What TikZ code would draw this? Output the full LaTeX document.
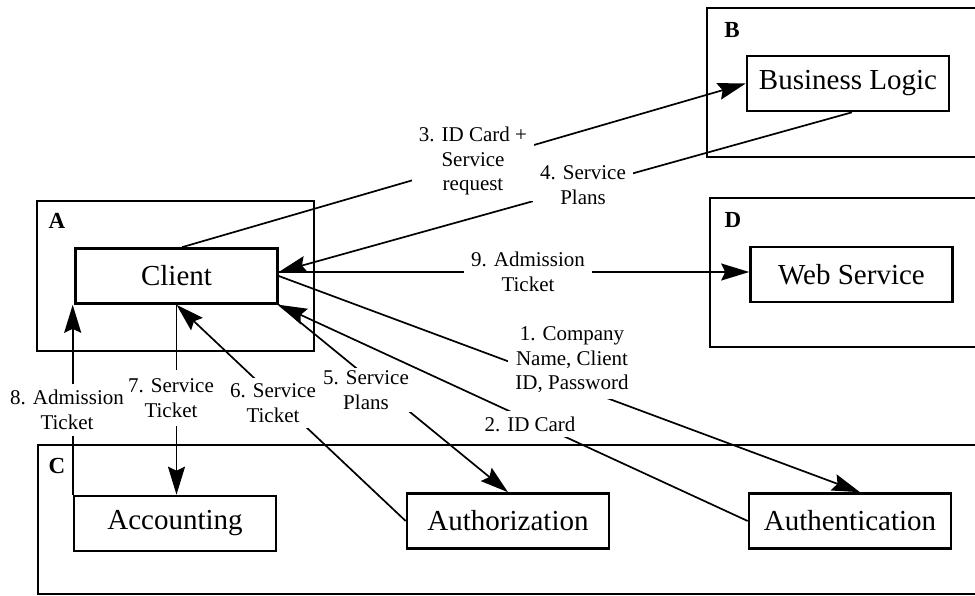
\documentclass[tikz,border=0pt]{standalone}
\usepackage{fontspec}
\setmainfont{Liberation Serif}
\usetikzlibrary{arrows.meta}
\begin{document}
\begin{tikzpicture}[x=1pt,y=1pt,
  group/.style={draw=black,line width=2.6pt,inner sep=0pt},
  unit/.style={draw=black,line width=2.6pt,minimum width=202pt,minimum height=55pt,inner sep=0pt,font=\fontsize{29}{32}\selectfont},
  tag/.style={inner sep=0pt,font=\fontsize{23}{25}\selectfont\bfseries},
  msg/.style={line width=1.7pt,-{Stealth[length=28pt,width=17pt,inset=4pt]}},
  note/.style={fill=white,align=center,inner xsep=7pt,inner ysep=6pt,font=\fontsize{21}{24.5}\selectfont}]
\useasboundingbox (0,0) rectangle (975,-595);
\clip (0,0) rectangle (975,-595);
\node[group,minimum width=277pt,minimum height=150pt] (grpA) at (175.5,-276) {};
\node[group,minimum width=278pt,minimum height=149pt] (grpB) at (846,-82.5) {};
\node[group,minimum width=947pt,minimum height=149pt] (grpC) at (511.5,-519.5) {};
\node[group,minimum width=275pt,minimum height=149pt] (grpD) at (847.5,-272.5) {};
\node[tag] (tagA) at (57,-221) {A};
\node[tag] (tagB) at (732,-30) {B};
\node[tag] (tagC) at (57,-466) {C};
\node[tag] (tagD) at (733,-220) {D};
\node[unit] (client) at (176.5,-276) {Client};
\node[unit] (biz) at (848,-83.5) {Business Logic};
\node[unit] (web) at (851.5,-274.5) {Web Service};
\node[unit] (acct) at (175,-523.5) {Accounting};
\node[unit] (authz) at (508,-521) {Authorization};
\node[unit] (authn) at (850,-521) {Authentication};
\draw[msg] (client.east) -- ([xshift=10pt]authn.north);
\draw[msg] (authn.west) -- (client.south east);
\draw[msg] ([xshift=5.5pt]client.north) -- (biz.west);
\draw[msg] ([xshift=4pt]biz.south) -- ([yshift=4pt]client.east);
\draw[msg] (client.south east) -- (authz.north);
\draw[msg] (authz.west) -- (client.south);
\draw[msg] (client.south) -- (client.south |- acct.north);
\draw[msg] (acct.north west) -- (acct.north west |- client.south);
\draw[msg] ([yshift=4pt]client.east) -- ([yshift=4pt]client.east -| web.west);
\node[note] (lbl1) at (572,-360) {1. Company\\Name, Client\\ID, Password};
\node[note] (lbl2) at (530,-424) {2. ID Card};
\node[note] (lbl3) at (473,-161) {3. ID Card +\\Service\\request};
\node[note] (lbl4) at (583,-185) {4. Service\\Plans};
\node[note,inner sep=3pt] (lbl5) at (366,-390) {5. Service\\Plans};
\node[note] (lbl6) at (273,-403) {6. Service\\Ticket};
\node[note,inner ysep=9pt] (lbl7) at (171,-398) {7. Service\\Ticket};
\node[note] (lbl8) at (67,-410) {8. Admission\\Ticket};
\node[note] (lbl9) at (528,-272) {9. Admission\\Ticket};
\end{tikzpicture}
\end{document}
